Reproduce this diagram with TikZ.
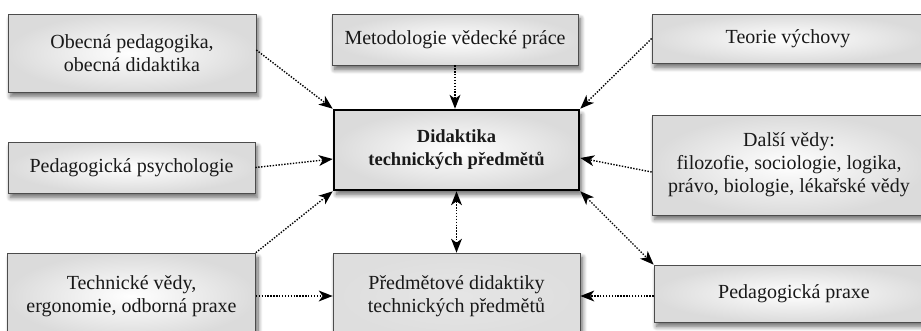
\documentclass[tikz,border=0pt]{standalone}
\usepackage{fontspec}
\setmainfont{Liberation Serif}
\usetikzlibrary{arrows.meta,shadows.blur}
\tikzset{
  box/.style={draw=black!70, line width=0.7pt, inner color=white, outer color=black!14,
    blur shadow={shadow xshift=2.5pt, shadow yshift=-4.5pt, shadow blur radius=4.5pt, shadow blur steps=10, shadow opacity=60},
    inner sep=0pt, align=center, font=\fontsize{20}{23}\selectfont, text=black!90},
  mainbox/.style={box, draw=black, line width=2.6pt, font=\fontsize{18.5}{23}\selectfont\bfseries},
  flatbox/.style={box, inner color=black!10, outer color=black!13},
  con/.style={line width=1.4pt, dash pattern=on 1.4pt off 1.5pt,
    -{Stealth[length=14pt,width=11pt,inset=4pt,line width=0pt]}},
  bicon/.style={line width=1.4pt, dash pattern=on 1.4pt off 1.5pt,
    {Stealth[length=14pt,width=11pt,inset=4pt,line width=0pt]}-{Stealth[length=14pt,width=11pt,inset=4pt,line width=0pt]}}
}
\begin{document}
\begin{tikzpicture}[x=1pt,y=-1pt]
\useasboundingbox (0,0) rectangle (921,330);
\clip (0,0) rectangle (921,330);
\node[box, minimum width=248pt, minimum height=78pt] (A) at (132,53) {Obecná pedagogika,\\obecná didaktika};
\node[box, minimum width=246pt, minimum height=51pt] (B) at (455,39.5) {Metodologie vědecké práce};
\node[box, minimum width=272pt, minimum height=49pt] (C) at (788,38.5) {Teorie výchovy};
\node[mainbox, minimum width=245pt, minimum height=80pt] (D) at (456.5,150) {Didaktika\\technických předmětů};
\node[box, minimum width=247pt, minimum height=51pt] (E) at (131.5,167.5) {Pedagogická psychologie};
\node[box, minimum width=274pt, minimum height=100pt] (F) at (789,165) {Další vědy:\\filozofie, sociologie, logika,\\právo, biologie, lékařské vědy};
\node[box, minimum width=248pt, minimum height=86pt] (G) at (131.5,296) {Technické vědy,\\ergonomie, odborná praxe};
\node[flatbox, minimum width=247pt, minimum height=86pt] (H) at (456.5,296) {Předmětové didaktiky\\technických předmětů};
\node[box, minimum width=280pt, minimum height=57pt] (I) at (794,293.5) {Pedagogická praxe};

\draw[con] ([yshift=3pt]A.east) -- (D.north west);
\draw[con] (B.south) -- (B.south |- D.north);
\draw[con] (C.west) -- (D.north east);
\draw[con] (E.east) -- ([yshift=-9pt]D.west);
\draw[con] ([yshift=-7pt]F.west) -- ([yshift=-8pt]D.east);
\draw[con] (G.north east) -- (D.south west);
\draw[bicon] (D.south) -- (D.south |- H.north);
\draw[bicon] (D.south east) -- (I.north west);
\draw[con] (G.east) -- (H.west);
\draw[con] (I.west |- H.east) -- (H.east);
\end{tikzpicture}
\end{document}
